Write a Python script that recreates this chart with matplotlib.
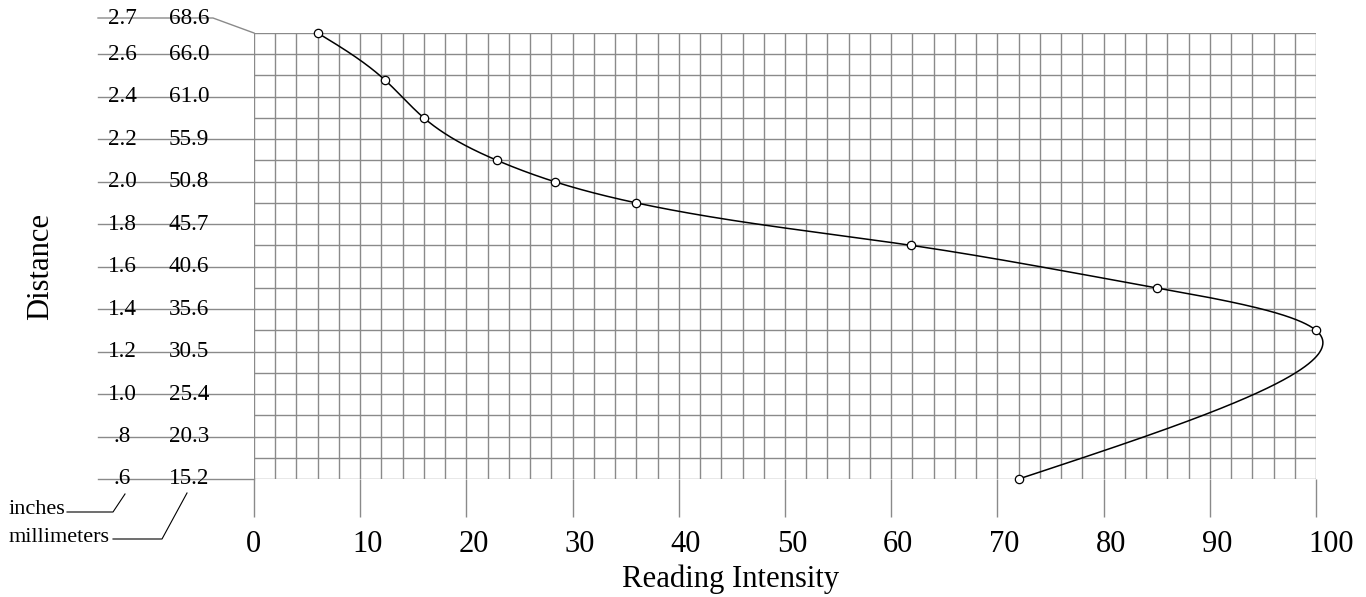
import numpy as np
import matplotlib
matplotlib.use("Agg")
import matplotlib.pyplot as plt
from matplotlib.transforms import ScaledTranslation

# ---- data ----
intensity = [6, 12.3, 16.0, 22.9, 28.3, 36.0, 61.9, 85.0, 100.0, 72.0]
distance_in = [2.7, 2.48, 2.30, 2.10, 2.0, 1.90, 1.70, 1.50, 1.30, 0.6]
inch_ticks = [0.6, 0.8, 1.0, 1.2, 1.4, 1.6, 1.8, 2.0, 2.2, 2.4, 2.6, 2.7]
inch_labels = [".6", ".8", "1.0", "1.2", "1.4", "1.6", "1.8", "2.0", "2.2", "2.4", "2.6", "2.7"]
mm_labels = ["15.2", "20.3", "25.4", "30.5", "35.6", "40.6", "45.7", "50.8", "55.9", "61.0", "66.0", "68.6"]
x_ticks = [0, 10, 20, 30, 40, 50, 60, 70, 80, 90, 100]

plt.rcParams['font.family'] = ['Liberation Serif', 'DejaVu Serif']

W, H = 1366, 597
fig = plt.figure(figsize=(W / 100, H / 100), dpi=100)
L, R, T, B = 254, 1316, 33, 479
ax = fig.add_axes([L / W, (H - B) / H, (R - L) / W, (B - T) / H])
ax.set_xlim(0, 100)
ax.set_ylim(0.6, 2.7)
for s in ax.spines.values():
    s.set_visible(False)

grid_c = '#8a8a8a'
# grid
ax.set_xticks(x_ticks)
ax.set_xticks(np.arange(0, 101, 2), minor=True)
ax.set_yticks(np.round(np.arange(0.6, 2.71, 0.1), 2), minor=True)
ax.set_yticks([])
ax.grid(which='both', axis='both', color=grid_c, linewidth=1.0)
ax.set_axisbelow(True)
ax.tick_params(axis='x', which='major', length=38 * 0.72, width=1.0, color=grid_c,
               direction='out', labelbottom=False)
ax.tick_params(axis='x', which='minor', length=0)
ax.tick_params(axis='y', which='both', length=0)

# x tick labels: left-aligned slightly left of each tick
xtr = ax.get_xaxis_transform() + ScaledTranslation(-8 / 100, 0, fig.dpi_scale_trans)
for v in x_ticks:
    ax.text(v, (B - 552) / (B - T), str(v), transform=xtr, ha='left', va='baseline',
            fontsize=22, clip_on=False)

# y label lines and labels (blended transform: x in axes fraction)
ytr = ax.get_yaxis_transform()
x_left = (98 - L) / (R - L)
x_in = (122 - L) / (R - L)
x_mm = (189 - L) / (R - L)
x_knee = (213 - L) / (R - L)
px_per_in = (B - T) / (2.7 - 0.6)
for v, li, lm in zip(inch_ticks, inch_labels, mm_labels):
    if v == 2.7:
        ylab = 2.7 + 15 / px_per_in
        ax.plot([x_left, x_knee, 0], [ylab, ylab, 2.7], color=grid_c, lw=1.0,
                transform=ytr, clip_on=False)
    else:
        ylab = v
        ax.plot([x_left, 0], [v, v], color=grid_c, lw=1.0, transform=ytr, clip_on=False)
    ax.text(x_in, ylab, li, transform=ytr, ha='center', va='center', fontsize=16.7, zorder=5)
    ax.text(x_mm, ylab, lm, transform=ytr, ha='center', va='center', fontsize=16.7, zorder=5)

# unit callouts (figure pixel coordinates)
def fpx(x, y):
    return x / W, 1 - y / H

for xs_, ys_ in [([67, 113, 125], [512, 512, 494]), ([113, 162, 187], [539, 539, 493])]:
    pts = [fpx(a, b) for a, b in zip(xs_, ys_)]
    fig.add_artist(plt.Line2D([p[0] for p in pts], [p[1] for p in pts],
                              color='black', lw=0.8, transform=fig.transFigure))
fig.text(*fpx(9, 510), "inches", ha='left', va='center', fontsize=16)
fig.text(*fpx(9, 538), "millimeters", ha='left', va='center', fontsize=16)

# axis titles
fig.text(*fpx(731, 587), "Reading Intensity", ha='center', va='baseline', fontsize=22.1)
fig.text(*fpx(41, 266), "Distance", ha='center', va='center', fontsize=22.1, rotation=90)

# smooth curve: natural cubic spline parameterized by chord length (pixel scale)
xs = np.array(intensity, float)
ys = np.array(distance_in, float)
sx = (R - L) / 100.0
sy = px_per_in
px = xs * sx
py = ys * sy
d = np.hypot(np.diff(px), np.diff(py))
t = np.concatenate([[0], np.cumsum(d)])

def natural_spline(t, y, tt):
    n = len(t)
    h = np.diff(t)
    A = np.zeros((n, n))
    rhs = np.zeros(n)
    A[0, 0] = 1
    A[-1, -1] = 1
    for i in range(1, n - 1):
        A[i, i - 1] = h[i - 1]
        A[i, i] = 2 * (h[i - 1] + h[i])
        A[i, i + 1] = h[i]
        rhs[i] = 6 * ((y[i + 1] - y[i]) / h[i] - (y[i] - y[i - 1]) / h[i - 1])
    M = np.linalg.solve(A, rhs)
    out = np.empty_like(tt)
    idx = np.clip(np.searchsorted(t, tt) - 1, 0, n - 2)
    for k, (ti, i) in enumerate(zip(tt, idx)):
        a = t[i + 1] - ti
        b = ti - t[i]
        hi = h[i]
        out[k] = (M[i] * a ** 3 + M[i + 1] * b ** 3) / (6 * hi) + \
                 (y[i] / hi - M[i] * hi / 6) * a + (y[i + 1] / hi - M[i + 1] * hi / 6) * b
    return out

tt = np.linspace(0, t[-1], 1500)
cx = natural_spline(t, px, tt) / sx
cy = natural_spline(t, py, tt) / sy
ax.plot(cx, cy, color='black', lw=1.1, clip_on=False, zorder=3)
ax.plot(xs, ys, linestyle='none', marker='o', markersize=6, markerfacecolor='white',
        markeredgecolor='black', markeredgewidth=0.9, clip_on=False, zorder=4)

fig.savefig("out.png", dpi=100)
